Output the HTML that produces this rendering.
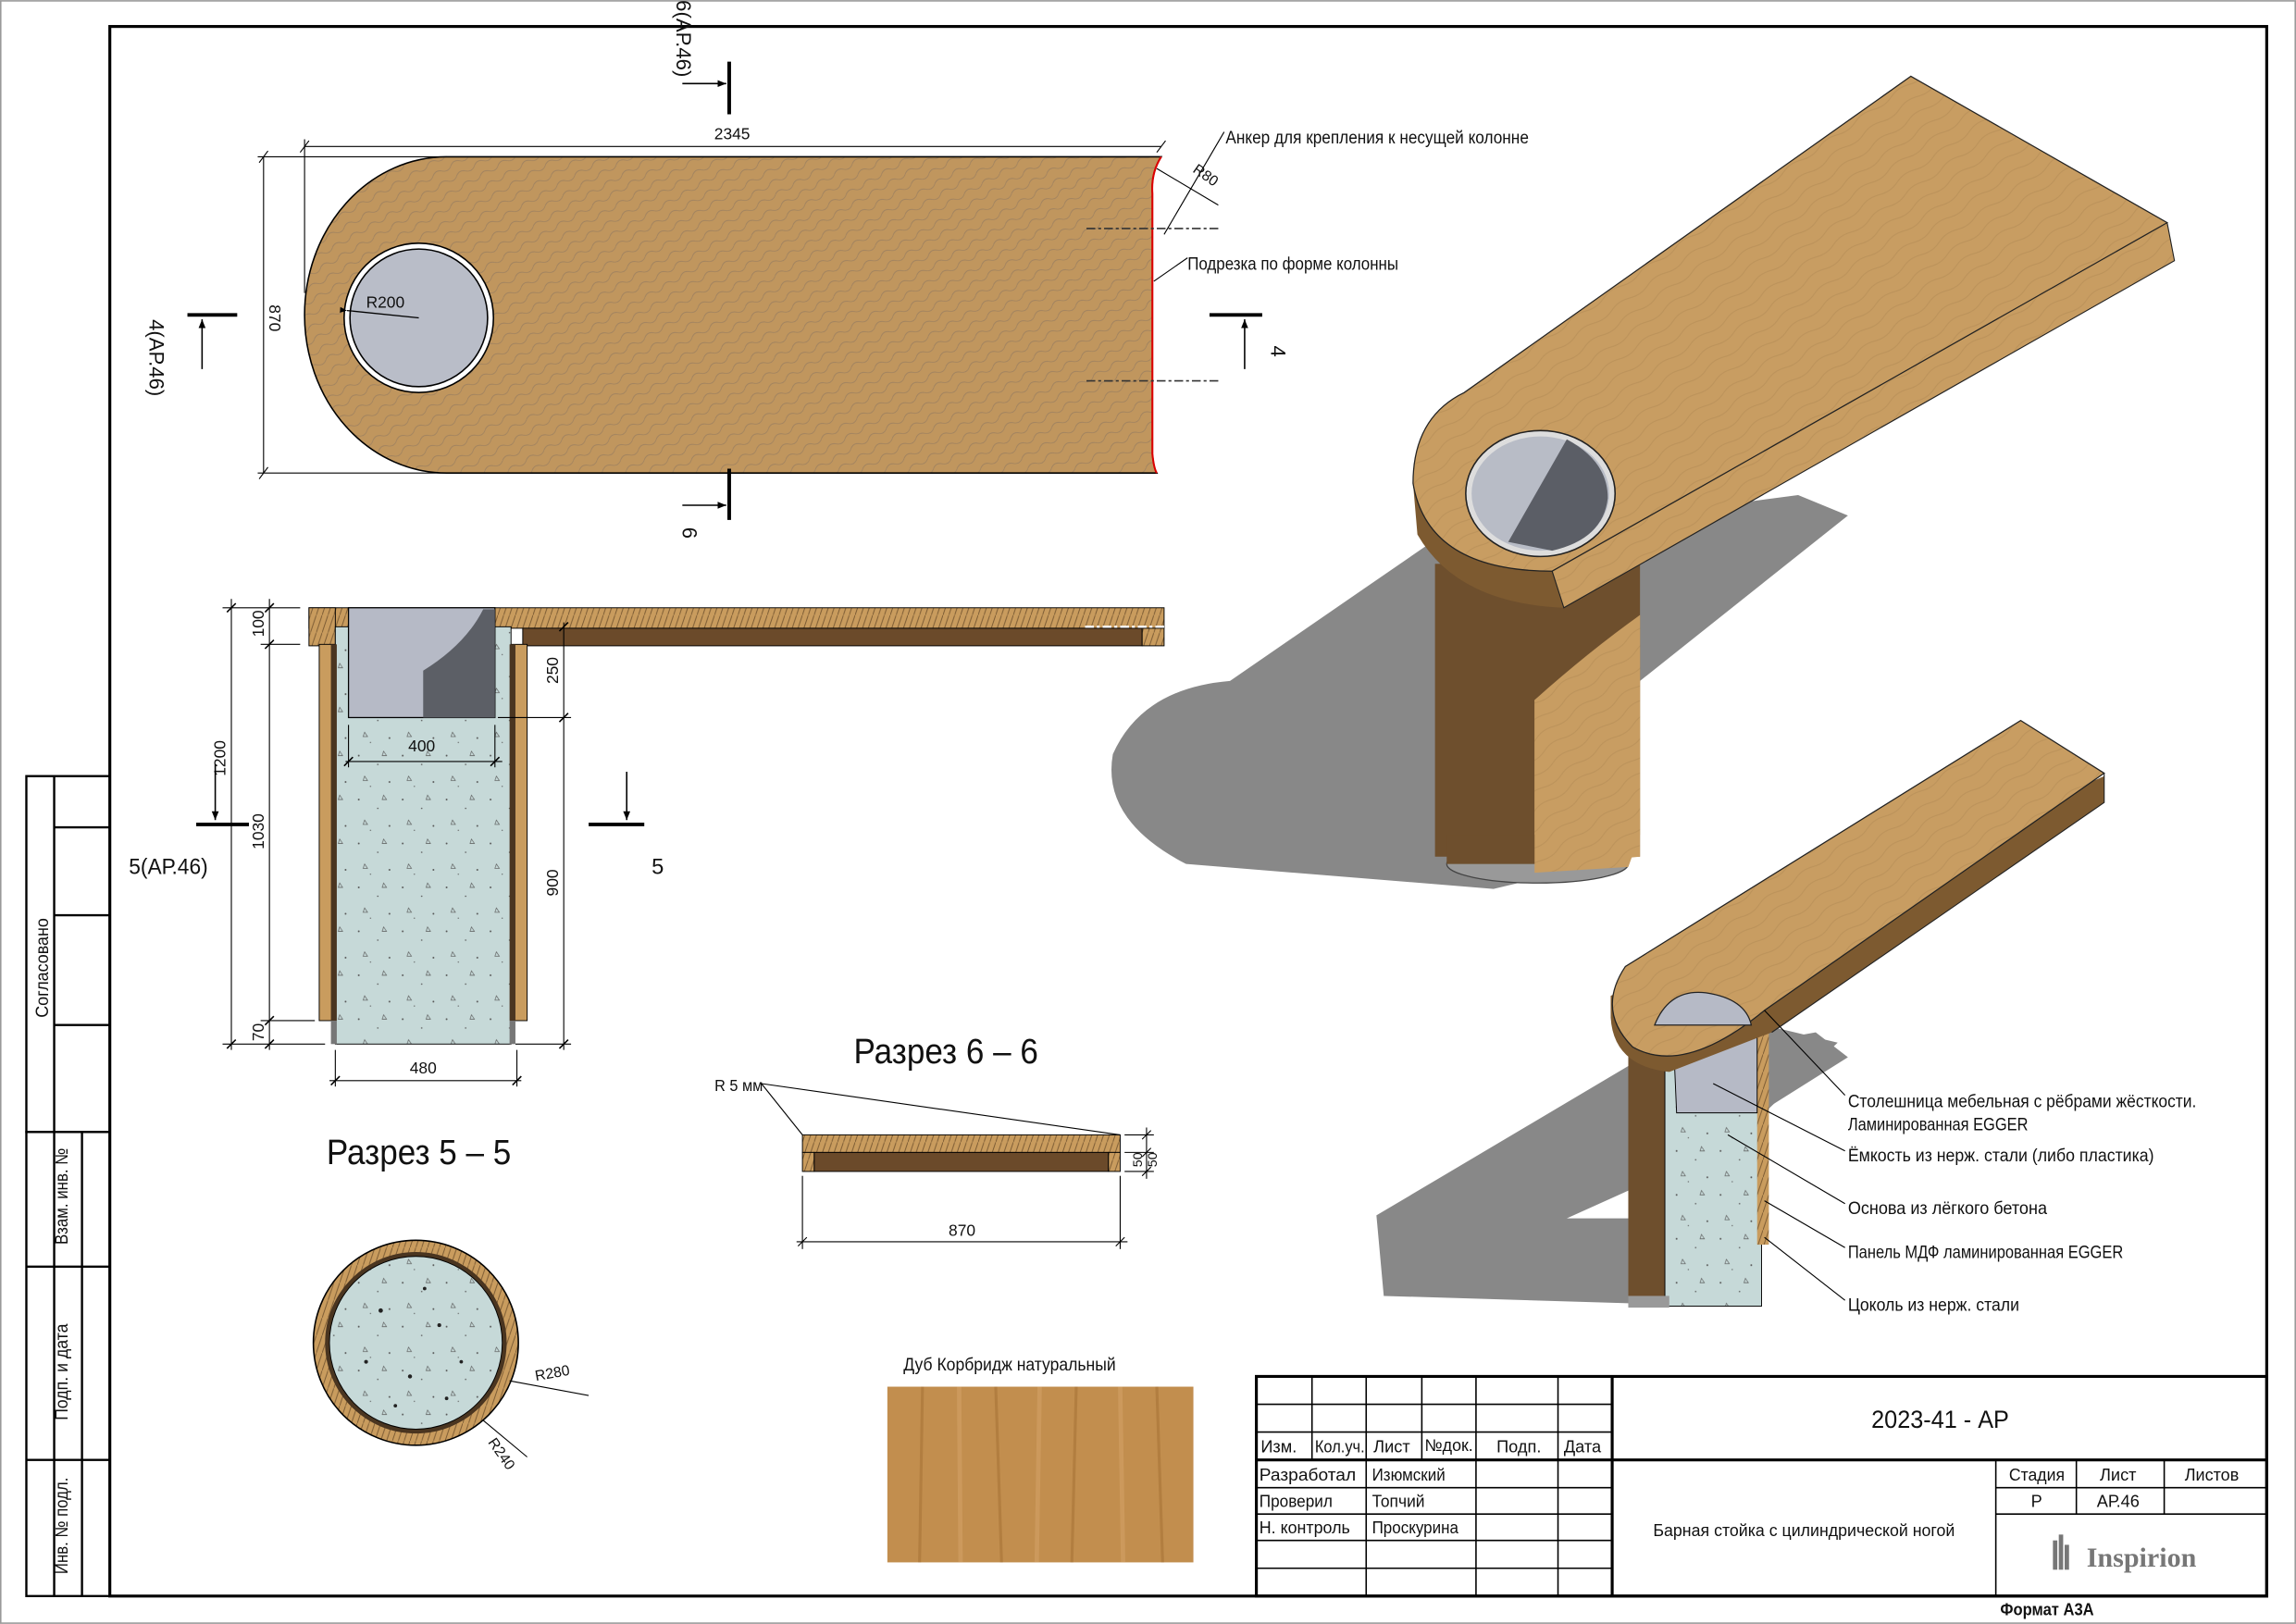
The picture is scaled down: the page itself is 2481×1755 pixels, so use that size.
<!DOCTYPE html>
<html><head><meta charset="utf-8"><style>
html,body{margin:0;padding:0;background:#fff}
svg{display:block}
text{font-family:"Liberation Sans Narrow","Liberation Sans","DejaVu Sans",sans-serif;fill:#111}
</style></head><body>
<svg width="2481" height="1755" viewBox="0 0 1568 1109" xmlns="http://www.w3.org/2000/svg">
<defs>
<pattern id="wood" width="14" height="8" patternUnits="userSpaceOnUse" patternTransform="rotate(-30)">
<rect width="14" height="8" fill="#c0965e"/>
<path d="M0,4 Q3.5,1 7,4 T14,4" stroke="#9c8060" stroke-width="0.5" fill="none"/>
</pattern>
<pattern id="wood3d" width="30" height="10" patternUnits="userSpaceOnUse" patternTransform="rotate(-35)">
<rect width="30" height="10" fill="#c89d62"/>
<path d="M0,5 Q7,2 15,5 T30,5" stroke="#bb925a" stroke-width="0.6" fill="none"/>
</pattern>
<pattern id="woodsec" width="4" height="12" patternUnits="userSpaceOnUse">
<rect width="4" height="12" fill="#c99c5e"/>
<path d="M0,12 L4,0" stroke="#7a5a33" stroke-width="0.6"/>
</pattern>
<pattern id="conc" width="30" height="30" patternUnits="userSpaceOnUse">
<rect width="30" height="30" fill="#c6d9d8"/>
<circle cx="5" cy="6" r="0.6" fill="#555"/><circle cx="18" cy="12" r="0.5" fill="#555"/>
<path d="M22,3 l2,3 h-3z M9,20 l2,3 h-3z" stroke="#555" stroke-width="0.4" fill="none"/>
<circle cx="26" cy="24" r="0.6" fill="#555"/><circle cx="13" cy="27" r="0.4" fill="#555"/>
</pattern>
<marker id="ar" viewBox="0 0 10 10" refX="10" refY="5" markerWidth="6" markerHeight="6" orient="auto"><path d="M0,1 L10,5 L0,9z" fill="#000"/></marker>
</defs>

<rect x="0.5" y="0.5" width="1567" height="1108" fill="none" stroke="#999" stroke-width="1"/>
<rect x="75" y="18" width="1473" height="1072" fill="none" stroke="#000" stroke-width="2"/>

<g stroke="#000" stroke-width="1.5" fill="none">
<rect x="18" y="530" width="57" height="243"/>
<line x1="37" y1="530" x2="37" y2="773"/>
<line x1="37" y1="565" x2="75" y2="565"/><line x1="37" y1="625" x2="75" y2="625"/><line x1="37" y1="700" x2="75" y2="700"/>
<rect x="18" y="773" width="57" height="317"/>
<line x1="37" y1="773" x2="37" y2="1090"/><line x1="56" y1="773" x2="56" y2="1090"/>
<line x1="18" y1="865" x2="75" y2="865"/><line x1="18" y1="997" x2="75" y2="997"/>
</g>
<text font-size="12" transform="translate(33,695) rotate(-90)" textLength="68" lengthAdjust="spacingAndGlyphs">Согласовано</text>
<text font-size="12" transform="translate(46,850) rotate(-90)" textLength="66" lengthAdjust="spacingAndGlyphs">Взам. инв. №</text>
<text font-size="12" transform="translate(46,970) rotate(-90)" textLength="66" lengthAdjust="spacingAndGlyphs">Подп. и дата</text>
<text font-size="12" transform="translate(46,1075) rotate(-90)" textLength="66" lengthAdjust="spacingAndGlyphs">Инв. № подл.</text>

<g stroke="#000" stroke-width="1" fill="none">
<rect x="858" y="940" width="690" height="150" stroke-width="2"/>
<line x1="896" y1="940" x2="896" y2="997"/><line x1="933" y1="940" x2="933" y2="1090"/>
<line x1="971" y1="940" x2="971" y2="997"/><line x1="1008" y1="940" x2="1008" y2="1090"/>
<line x1="1064" y1="940" x2="1064" y2="1090"/><line x1="1101" y1="940" x2="1101" y2="1090" stroke-width="2"/>
<line x1="858" y1="959" x2="1101" y2="959"/><line x1="858" y1="978" x2="1101" y2="978"/>
<line x1="858" y1="997" x2="1548" y2="997" stroke-width="2"/>
<line x1="858" y1="1016" x2="1101" y2="1016"/><line x1="858" y1="1034" x2="1101" y2="1034"/>
<line x1="858" y1="1052" x2="1101" y2="1052"/><line x1="858" y1="1071" x2="1101" y2="1071"/>
<line x1="1363" y1="997" x2="1363" y2="1090"/><line x1="1418" y1="997" x2="1418" y2="1034"/><line x1="1478" y1="997" x2="1478" y2="1034"/>
<line x1="1363" y1="1016" x2="1548" y2="1016"/><line x1="1363" y1="1034" x2="1548" y2="1034"/>
</g>
<g font-size="11.5">
<text x="861" y="992">Изм.</text><text x="898" y="992" textLength="34" lengthAdjust="spacingAndGlyphs">Кол.уч.</text><text x="938" y="992">Лист</text><text x="973" y="991" textLength="33" lengthAdjust="spacingAndGlyphs">№док.</text><text x="1022" y="992">Подп.</text><text x="1068" y="992">Дата</text>
<text x="860" y="1011" textLength="66" lengthAdjust="spacingAndGlyphs">Разработал</text><text x="937" y="1011" textLength="50" lengthAdjust="spacingAndGlyphs">Изюмский</text>
<text x="860" y="1029" textLength="50" lengthAdjust="spacingAndGlyphs">Проверил</text><text x="937" y="1029" textLength="36" lengthAdjust="spacingAndGlyphs">Топчий</text>
<text x="860" y="1047" textLength="62" lengthAdjust="spacingAndGlyphs">Н. контроль</text><text x="937" y="1047" textLength="59" lengthAdjust="spacingAndGlyphs">Проскурина</text>
<text x="1372" y="1011" textLength="38" lengthAdjust="spacingAndGlyphs">Стадия</text><text x="1434" y="1011">Лист</text><text x="1492" y="1011" textLength="37" lengthAdjust="spacingAndGlyphs">Листов</text>
<text x="1387" y="1029">Р</text><text x="1432" y="1029">АР.46</text>
<text x="1129" y="1049" textLength="206" lengthAdjust="spacingAndGlyphs">Барная стойка с цилиндрической ногой</text>
</g>
<text x="1278" y="975" font-size="17" textLength="94" lengthAdjust="spacingAndGlyphs">2023-41 - АР</text>
<g fill="#777"><rect x="1402" y="1052" width="3" height="20"/><rect x="1406" y="1048" width="3" height="24"/><rect x="1410" y="1055" width="3" height="17"/></g>
<text x="1425" y="1070" font-size="19" font-weight="bold" style="font-family:'Liberation Serif',serif;fill:#777">Inspirion</text>
<text x="1366" y="1103" font-size="11.5" font-weight="bold" textLength="64" lengthAdjust="spacingAndGlyphs">Формат А3А</text>

<!-- PLAN VIEW -->
<path d="M305,107 L793,107 Q786,118 787,132 L787,310 Q788,320 790,323 L305,323 A97,108 0 0 1 305,107 Z" fill="url(#wood)" stroke="#000" stroke-width="1"/>
<path d="M793,107 Q786,118 787,132 L787,310 Q788,320 790,323" fill="none" stroke="#d00" stroke-width="1.3"/>
<circle cx="286" cy="217" r="51" fill="#fff" stroke="#000" stroke-width="1"/>
<circle cx="286" cy="217" r="47" fill="#b9bdc8" stroke="#000" stroke-width="1"/>
<line x1="237" y1="212" x2="286" y2="217" stroke="#000" stroke-width="0.8" marker-start="url(#ar)"/>
<text x="250" y="210" font-size="11">R200</text>
<g stroke="#000" stroke-width="0.7">
<line x1="208" y1="100" x2="793" y2="100"/><line x1="208" y1="95" x2="208" y2="200"/>
<line x1="205" y1="104" x2="211" y2="96"/><line x1="790" y1="104" x2="796" y2="96"/>
<line x1="180" y1="107" x2="180" y2="323"/><line x1="176" y1="107" x2="305" y2="107"/><line x1="176" y1="323" x2="305" y2="323"/>
<line x1="177" y1="111" x2="183" y2="103"/><line x1="177" y1="327" x2="183" y2="319"/>
</g>
<text x="500" y="95" font-size="11" text-anchor="middle">2345</text>
<text font-size="11" transform="translate(184,208) rotate(90)">870</text>
<g stroke="#333" stroke-width="1" stroke-dasharray="6,2,2,2" fill="none">
<line x1="742" y1="156" x2="832" y2="156"/><line x1="742" y1="260" x2="832" y2="260"/>
</g>
<g stroke="#000" stroke-width="2.5"><line x1="498" y1="42" x2="498" y2="78"/><line x1="498" y1="320" x2="498" y2="355"/>
<line x1="128" y1="215" x2="162" y2="215"/><line x1="826" y1="215" x2="862" y2="215"/></g>
<g stroke="#000" stroke-width="1"><line x1="466" y1="57" x2="496" y2="57" marker-end="url(#ar)"/><line x1="466" y1="345" x2="496" y2="345" marker-end="url(#ar)"/>
<line x1="138" y1="252" x2="138" y2="218" marker-end="url(#ar)"/><line x1="850" y1="252" x2="850" y2="218" marker-end="url(#ar)"/></g>
<text font-size="14" transform="translate(462,0) rotate(90)">6(АР.46)</text>
<text font-size="14" transform="translate(466,360) rotate(90)">6</text>
<text font-size="14" transform="translate(102,218) rotate(90)">4(АР.46)</text>
<text font-size="14" transform="translate(868,236) rotate(90)">4</text>
<g stroke="#000" stroke-width="0.7" fill="none"><line x1="836" y1="90" x2="795" y2="160"/><line x1="811" y1="176" x2="788" y2="192"/>
<line x1="790" y1="115" x2="832" y2="140"/></g>
<text x="837" y="98" font-size="12" textLength="207" lengthAdjust="spacingAndGlyphs">Анкер для крепления к несущей колонне</text>
<text x="811" y="184" font-size="12" textLength="144" lengthAdjust="spacingAndGlyphs">Подрезка по форме колонны</text>
<text font-size="10" transform="translate(814,117) rotate(35)">R80</text>

<!-- SECTION 5-5 -->
<rect x="211" y="415" width="584" height="14" fill="url(#woodsec)" stroke="#000" stroke-width="0.6"/>
<rect x="357" y="429" width="423" height="12" fill="#6b4a2a" stroke="#000" stroke-width="0.6"/>
<rect x="780" y="429" width="15" height="12" fill="url(#woodsec)" stroke="#000" stroke-width="0.6"/>
<rect x="211" y="415" width="18" height="26" fill="url(#woodsec)" stroke="#000" stroke-width="0.6"/>
<rect x="229" y="428" width="120" height="285" fill="url(#conc)" stroke="#000" stroke-width="0.6"/>
<rect x="218" y="440" width="11" height="257" fill="#c99c5e" stroke="#000" stroke-width="0.6"/>
<rect x="226" y="440" width="4" height="257" fill="#4a3520"/>
<rect x="349" y="440" width="11" height="257" fill="#c99c5e" stroke="#000" stroke-width="0.6"/>
<rect x="348" y="440" width="4" height="257" fill="#4a3520"/>
<rect x="226" y="697" width="4" height="16" fill="#777"/><rect x="348" y="697" width="4" height="16" fill="#777"/>
<rect x="238" y="415" width="100" height="75" fill="#b6bac6" stroke="#000" stroke-width="0.8"/>
<path d="M330,416 L338,416 L338,490 L289,490 L289,458 Q318,440 330,416Z" fill="#5c5f66"/>
<line x1="741" y1="428" x2="832" y2="428" stroke="#fff" stroke-width="1.5" stroke-dasharray="6,2,2,2"/>
<g stroke="#000" stroke-width="0.7">
<line x1="158" y1="409" x2="158" y2="717"/><line x1="184" y1="409" x2="184" y2="717"/>
<line x1="152" y1="415" x2="205" y2="415"/><line x1="178" y1="440" x2="205" y2="440"/><line x1="178" y1="697" x2="215" y2="697"/><line x1="152" y1="713" x2="222" y2="713"/>
<line x1="385" y1="425" x2="385" y2="717"/><line x1="340" y1="490" x2="390" y2="490"/><line x1="352" y1="713" x2="390" y2="713"/>
<line x1="236" y1="520" x2="343" y2="520"/><line x1="238" y1="495" x2="238" y2="524"/><line x1="338" y1="495" x2="338" y2="524"/>
<line x1="225" y1="738" x2="356" y2="738"/><line x1="229" y1="717" x2="229" y2="742"/><line x1="353" y1="717" x2="353" y2="742"/>
</g>
<g stroke="#000" stroke-width="1">
<path d="M155,418l6,-6 M155,716l6,-6 M181,418l6,-6 M181,443l6,-6 M181,700l6,-6 M181,716l6,-6 M382,431l6,-6 M382,493l6,-6 M382,716l6,-6 M235,523l6,-6 M335,523l6,-6 M226,741l6,-6 M350,741l6,-6"/>
</g>
<g font-size="11">
<text transform="translate(154,530) rotate(-90)">1200</text>
<text transform="translate(180,580) rotate(-90)">1030</text>
<text transform="translate(180,435) rotate(-90)">100</text>
<text transform="translate(180,711) rotate(-90)">70</text>
<text transform="translate(381,467) rotate(-90)">250</text>
<text transform="translate(381,612) rotate(-90)">900</text>
<text x="288" y="513" text-anchor="middle">400</text>
<text x="289" y="733" text-anchor="middle">480</text>
</g>
<g stroke="#000" stroke-width="2.5"><line x1="134" y1="563" x2="170" y2="563"/><line x1="402" y1="563" x2="440" y2="563"/></g>
<g stroke="#000" stroke-width="1"><line x1="147" y1="522" x2="147" y2="560" marker-end="url(#ar)"/><line x1="428" y1="527" x2="428" y2="560" marker-end="url(#ar)"/></g>
<text x="88" y="597" font-size="15" textLength="54" lengthAdjust="spacingAndGlyphs">5(АР.46)</text>
<text x="445" y="597" font-size="15">5</text>
<text x="223" y="795" font-size="24" textLength="126" lengthAdjust="spacingAndGlyphs">Разрез 5 – 5</text>

<!-- SECTION 6-6 -->
<text x="583" y="726" font-size="24" textLength="126" lengthAdjust="spacingAndGlyphs">Разрез 6 – 6</text>
<rect x="548" y="775" width="217" height="12" fill="url(#woodsec)" stroke="#000" stroke-width="0.6"/>
<rect x="556" y="787" width="201" height="13" fill="#6b4a2a" stroke="#000" stroke-width="0.6"/>
<rect x="548" y="787" width="8" height="13" fill="url(#woodsec)" stroke="#000" stroke-width="0.6"/>
<rect x="757" y="787" width="8" height="13" fill="url(#woodsec)" stroke="#000" stroke-width="0.6"/>
<text x="488" y="745" font-size="11" textLength="33" lengthAdjust="spacingAndGlyphs">R 5 мм</text>
<g stroke="#000" stroke-width="0.7" fill="none">
<line x1="520" y1="740" x2="548" y2="775"/><line x1="520" y1="740" x2="765" y2="775"/>
<line x1="544" y1="848" x2="770" y2="848"/><line x1="548" y1="803" x2="548" y2="853"/><line x1="765" y1="803" x2="765" y2="853"/>
<line x1="783" y1="770" x2="783" y2="805"/><line x1="768" y1="775" x2="788" y2="775"/><line x1="768" y1="787" x2="788" y2="787"/><line x1="768" y1="800" x2="788" y2="800"/>
<path d="M545,851l6,-6 M762,851l6,-6 M780,778l6,-6 M780,790l6,-6 M780,803l6,-6"/>
</g>
<text x="657" y="844" font-size="11" text-anchor="middle">870</text>
<text font-size="9" transform="translate(780,797) rotate(-90)">50</text>
<text font-size="9" transform="translate(790,797) rotate(-90)">50</text>

<!-- circle section -->
<circle cx="284" cy="917" r="70" fill="url(#woodsec)" stroke="#000" stroke-width="1"/>
<circle cx="284" cy="917" r="62" fill="#4a3520"/>
<circle cx="284" cy="917" r="59" fill="url(#conc)" stroke="#000" stroke-width="0.6"/>
<g fill="#222"><circle cx="260" cy="895" r="1.5"/><circle cx="300" cy="905" r="1.3"/><circle cx="280" cy="940" r="1.4"/><circle cx="315" cy="930" r="1.2"/><circle cx="250" cy="930" r="1.3"/><circle cx="290" cy="880" r="1.2"/><circle cx="270" cy="960" r="1.2"/><circle cx="305" cy="955" r="1.2"/></g>
<g stroke="#000" stroke-width="0.7"><line x1="348" y1="943" x2="402" y2="953"/><line x1="330" y1="970" x2="360" y2="995"/></g>
<text font-size="10" transform="translate(366,943) rotate(-10)">R280</text>
<text font-size="10" transform="translate(333,985) rotate(55)">R240</text>

<!-- swatch -->
<text x="617" y="936" font-size="12" textLength="145" lengthAdjust="spacingAndGlyphs">Дуб Корбридж натуральный</text>
<rect x="606" y="947" width="209" height="120" fill="#c28e4e"/>
<g stroke="#a87538" stroke-width="2" opacity="0.6"><line x1="630" y1="947" x2="628" y2="1067"/><line x1="680" y1="947" x2="684" y2="1067"/><line x1="735" y1="947" x2="732" y2="1067"/><line x1="790" y1="947" x2="794" y2="1067"/></g>
<g stroke="#d6a56a" stroke-width="3" opacity="0.5"><line x1="655" y1="947" x2="656" y2="1067"/><line x1="710" y1="947" x2="708" y2="1067"/><line x1="765" y1="947" x2="767" y2="1067"/></g>

<!-- 3D UPPER -->
<path d="M1228,338 L1262,352 L1120,465 L1112,585 L1020,607 L810,590 Q752,560 760,515 Q780,470 840,465 L975,372 Z" fill="#888"/>
<rect x="980" y="385" width="140" height="200" fill="#6e4f2d"/>
<path d="M1120,420 L1120,585 L1048,592 L1048,478 Q1085,445 1120,420Z" fill="url(#wood3d)"/>
<ellipse cx="1050" cy="590" rx="62" ry="13" fill="#999" stroke="#444" stroke-width="0.8"/>
<rect x="988" y="570" width="124" height="20" fill="#6e4f2d"/>
<path d="M1048,478 L1048,596 L1112,592 L1120,570 L1120,420 Z" fill="url(#wood3d)"/>
<!-- slab side -->
<path d="M1480,152 L1485,178 L1068,415 Q995,412 968,365 L965,330 Q985,385 1060,390 Z" fill="#7d5a30"/>
<path d="M1480,152 L1485,178 L1068,415 L1060,390 Z" fill="url(#wood3d)"/>
<path d="M1305,52 L1480,152 L1060,390 Q975,390 965,330 Q965,285 1000,268 Z" fill="url(#wood3d)" stroke="#222" stroke-width="0.8"/>
<path d="M1480,152 L1485,178 L1068,415 L1060,390" fill="none" stroke="#222" stroke-width="0.7"/>
<ellipse cx="1052" cy="337" rx="51" ry="43" fill="#ddd" stroke="#222" stroke-width="1"/>
<ellipse cx="1052" cy="337" rx="47" ry="39" fill="#b8bcc6"/>
<path d="M1070,300 Q1098,315 1098,340 Q1095,368 1060,376 L1030,370 Z" fill="#5b5e66"/>

<!-- 3D LOWER -->
<path d="M1240,705 L1262,722 L1130,805 L1070,832 L1112,832 L1112,890 L945,885 L940,830 L1112,728 Z" fill="#888"/>
<path d="M1205,700 L1255,712 L1205,760 Z" fill="#888"/>
<rect x="1112" y="720" width="28" height="172" fill="#6e4f2d"/>
<rect x="1137" y="728" width="66" height="164" fill="url(#conc)" stroke="#000" stroke-width="0.6"/>
<rect x="1200" y="700" width="8" height="150" fill="url(#woodsec)"/>
<path d="M1142,690 L1200,690 L1200,760 L1145,760 Z" fill="#b6bac6" stroke="#000" stroke-width="0.6"/>
<rect x="1112" y="885" width="28" height="8" fill="#999"/>
<path d="M1437,530 L1437,548 L1210,705 L1140,732 Q1102,728 1100,695 L1100,680 Z" fill="#7d5a30"/>
<path d="M1380,492 L1437,528 L1205,690 Q1150,735 1115,715 Q1090,690 1110,660 Z" fill="url(#wood3d)" stroke="#222" stroke-width="0.8"/>
<path d="M1437,528 L1437,548 L1210,705" fill="none" stroke="#222" stroke-width="0.7"/>
<path d="M1130,700 Q1140,675 1165,678 Q1192,682 1196,700 Z" fill="#b6bac6" stroke="#222" stroke-width="0.8"/>
<g stroke="#000" stroke-width="0.7" fill="none">
<line x1="1260" y1="748" x2="1205" y2="690"/><line x1="1260" y1="786" x2="1170" y2="740"/>
<line x1="1260" y1="822" x2="1180" y2="775"/><line x1="1260" y1="852" x2="1205" y2="820"/><line x1="1260" y1="888" x2="1205" y2="845"/>
</g>
<g font-size="12">
<text x="1262" y="756" textLength="238" lengthAdjust="spacingAndGlyphs">Столешница мебельная с рёбрами жёсткости.</text>
<text x="1262" y="772" textLength="123" lengthAdjust="spacingAndGlyphs">Ламинированная EGGER</text>
<text x="1262" y="793" textLength="209" lengthAdjust="spacingAndGlyphs">Ёмкость из нерж. стали (либо пластика)</text>
<text x="1262" y="829" textLength="136" lengthAdjust="spacingAndGlyphs">Основа из лёгкого бетона</text>
<text x="1262" y="859" textLength="188" lengthAdjust="spacingAndGlyphs">Панель МДФ ламинированная EGGER</text>
<text x="1262" y="895" textLength="117" lengthAdjust="spacingAndGlyphs">Цоколь из нерж. стали</text>
</g>
</svg>
</body></html>
